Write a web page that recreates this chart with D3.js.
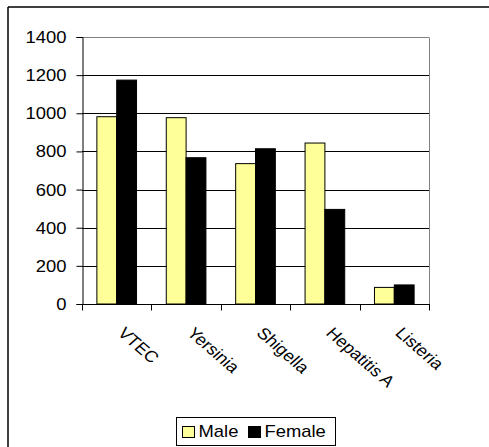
<!DOCTYPE html>
<html><head><meta charset="utf-8">
<script src="https://cdn.jsdelivr.net/npm/d3@7"></script>
<style>body{margin:0;background:#fff}svg{display:block}text{font-family:"Liberation Sans",Arial,sans-serif}</style>
</head><body>
<svg id="c" width="489" height="447"></svg>
<script>
const categories = ["VTEC", "Yersinia", "Shigella", "Hepatitis A", "Listeria"];
const seriesNames = ["Male", "Female"];
const male = [982, 977, 736, 844, 87];
const female = [1174, 767, 814, 496, 100];
const yTicks = [0, 200, 400, 600, 800, 1000, 1200, 1400];
const colors = ["#FFFF99", "#000000"];

(function () {
const svg = d3.select("#c");
const W = 489, H = 447;
const pL = 82, pR = 429, pT = 37, pB = 304;
const SX = 1.15, FS = 16;

svg.append("rect").attr("width", W).attr("height", H).attr("fill", "#fff");
// outer frame (left and top visible)
svg.append("line").attr("x1", 8).attr("x2", 8).attr("y1", 7).attr("y2", H).attr("stroke", "#000").attr("stroke-width", 1.5);
svg.append("line").attr("x1", 8).attr("x2", W).attr("y1", 7).attr("y2", 7).attr("stroke", "#000").attr("stroke-width", 1.5);

const x = d3.scaleBand().domain(categories).range([pL, pR]).paddingInner(0).paddingOuter(0);
const x1 = d3.scaleBand().domain(seriesNames).range([0, x.bandwidth()]).paddingInner(0).paddingOuter(0.75);
const y = d3.scaleLinear().domain([0, 1400]).range([pB, pT]);

// gridlines
svg.append("g").selectAll("line").data(yTicks.filter(d => d > 0)).join("line")
  .attr("x1", pL).attr("x2", pR)
  .attr("y1", d => Math.round(y(d)) + 0.5).attr("y2", d => Math.round(y(d)) + 0.5)
  .attr("stroke", d => d === 1400 ? "#808080" : "#000").attr("stroke-width", 1);
// right plot border
svg.append("line").attr("x1", pR + 0.5).attr("x2", pR + 0.5).attr("y1", Math.round(y(1400)) + 0.5).attr("y2", pB)
  .attr("stroke", "#808080").attr("stroke-width", 1);

// bars
const data = categories.map((c, i) => ({c, vals: [male[i], female[i]]}));
const g = svg.append("g");
data.forEach(d => {
  d.vals.forEach((v, j) => {
    g.append("rect")
      .attr("x", x(d.c) + x1(seriesNames[j]))
      .attr("y", y(v))
      .attr("width", x1.bandwidth())
      .attr("height", y(0) - y(v))
      .attr("fill", colors[j])
      .attr("stroke", "#000").attr("stroke-width", 1);
  });
});

// y axis
const ya = svg.append("g").attr("transform", `translate(${pL + 0.5},0)`)
  .call(d3.axisLeft(y).tickValues(yTicks).tickSize(6).tickPadding(0).tickFormat(d3.format("d")));
ya.select(".domain").attr("stroke", "#000");
ya.selectAll(".tick line").attr("stroke", "#000");
ya.selectAll(".tick text").remove();
ya.selectAll(".tick").append("text")
  .attr("transform", `translate(-16,5.5) scale(${SX},1)`)
  .attr("text-anchor", "end").attr("fill", "#000").attr("font-size", FS)
  .text(d => d);

// x axis
const xa = svg.append("g").attr("transform", `translate(0,${pB + 0.5})`);
xa.append("line").attr("x1", pL).attr("x2", pR + 1).attr("stroke", "#000");
xa.selectAll("line.t").data(categories.concat(["_end"])).join("line").attr("class", "t")
  .attr("x1", (d, i) => Math.round(pL + i * x.bandwidth()) + 0.5)
  .attr("x2", (d, i) => Math.round(pL + i * x.bandwidth()) + 0.5)
  .attr("y1", 0).attr("y2", 6).attr("stroke", "#000");
svg.append("g").selectAll("text").data(categories).join("text")
  .attr("transform", d => `translate(${x(d) + x.bandwidth() / 2},${334}) scale(${SX},1) rotate(45)`)
  .attr("font-size", FS).attr("fill", "#000").attr("text-anchor", "start")
  .text(d => d);

// legend
const lg = svg.append("g");
lg.append("rect").attr("x", 176.5).attr("y", 417.5).attr("width", 159).attr("height", 28)
  .attr("fill", "#fff").attr("stroke", "#000").attr("stroke-width", 1);
const legItems = [{n: seriesNames[0], sx: 182.5, tx: 198.5}, {n: seriesNames[1], sx: 248.5, tx: 264.5}];
legItems.forEach((it, j) => {
  lg.append("rect").attr("x", it.sx).attr("y", 426.5).attr("width", 12).attr("height", 11)
    .attr("fill", colors[j]).attr("stroke", "#000").attr("stroke-width", 1);
  lg.append("text").attr("transform", `translate(${it.tx},437) scale(${SX},1)`)
    .attr("font-size", FS).attr("fill", "#000").text(it.n);
});
})();
</script>
</body></html>
